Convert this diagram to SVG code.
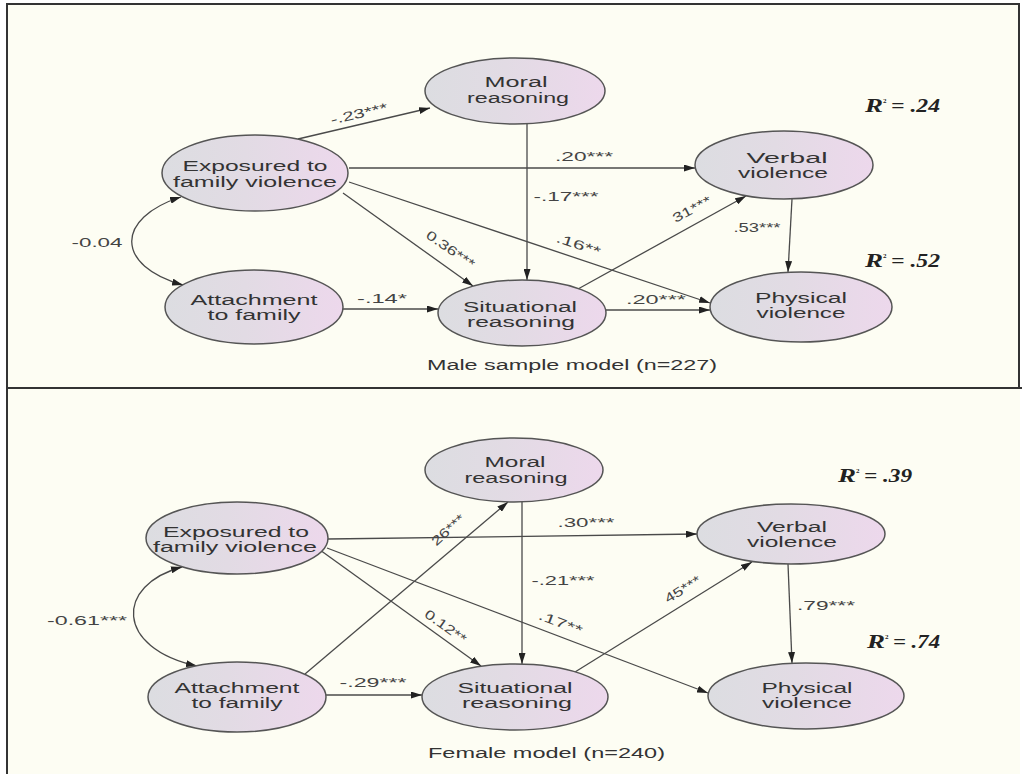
<svg xmlns="http://www.w3.org/2000/svg" width="1022" height="774" viewBox="0 0 1022 774">
<style>
.nd{fill:url(#g);stroke:#555;stroke-width:1.5}
.nt{font-family:"Liberation Sans",Arial,sans-serif;font-size:14px;fill:#333;text-anchor:middle}
.el{font-family:"Liberation Sans",Arial,sans-serif;font-size:13px;fill:#444;text-anchor:middle}
.cn{fill:none;stroke:#4a4a4a;stroke-width:1.3}
.ar{marker-end:url(#ah)}
.r2{font-family:"Liberation Serif","Times New Roman",serif;font-weight:bold;font-style:italic;font-size:18px;fill:#222}
.sup{font-family:"Liberation Serif","Times New Roman",serif;font-weight:bold;font-size:7px;fill:#222}
.cap{font-family:"Liberation Sans",Arial,sans-serif;font-size:14px;fill:#333}
</style>
<defs>
<linearGradient id="g" x1="0" y1="0" x2="1" y2="0">
<stop offset="0" stop-color="#dcdde1"/>
<stop offset="0.45" stop-color="#e2dbe4"/>
<stop offset="1" stop-color="#edd8ec"/>
</linearGradient>
<marker id="ah" markerWidth="11" markerHeight="7" refX="11" refY="3.5" orient="auto-start-reverse" markerUnits="userSpaceOnUse">
<path d="M0,0 L11,3.5 L0,7 z" fill="#222"/>
</marker>
</defs>
<rect x="0" y="0" width="1022" height="774" fill="#ffffff"/>
<rect x="7" y="4" width="1013" height="770" fill="#fdfdf3"/>
<g id="frame" fill="none" stroke="#333" stroke-width="2">
<rect x="7" y="4" width="1012" height="384"/>
<line x1="7" y1="388" x2="7" y2="774"/>
<line x1="7" y1="388" x2="1022" y2="388"/>
</g>

<!-- ===== Male panel ===== -->
<g id="connectors-male">
<line class="cn ar" x1="298" y1="139" x2="430" y2="108"/>
<line class="cn ar" x1="349" y1="168" x2="695" y2="168"/>
<line class="cn ar" x1="527" y1="124" x2="527" y2="280"/>
<line class="cn ar" x1="343" y1="193" x2="473" y2="286"/>
<line class="cn ar" x1="349" y1="182" x2="710" y2="303"/>
<line class="cn ar" x1="578" y1="289" x2="746" y2="196"/>
<line class="cn ar" x1="792" y1="199" x2="788" y2="272"/>
<line class="cn ar" x1="343" y1="309" x2="438" y2="309"/>
<line class="cn ar" x1="606" y1="310" x2="710" y2="310"/>
<path class="cn" d="M181,197 C115,218 115,266 183,285" marker-start="url(#ah)" marker-end="url(#ah)"/>
<text class="el" x="360" y="118" textLength="58" lengthAdjust="spacingAndGlyphs" transform="rotate(-13 360 118)">-.23***</text>
<text class="el" x="584" y="161" textLength="58" lengthAdjust="spacingAndGlyphs">.20***</text>
<text class="el" x="566" y="201" textLength="65" lengthAdjust="spacingAndGlyphs">-.17***</text>
<text class="el" x="448" y="253" textLength="56" lengthAdjust="spacingAndGlyphs" transform="rotate(35 448 253)">0.36***</text>
<text class="el" x="577" y="249" textLength="46" lengthAdjust="spacingAndGlyphs" transform="rotate(18.5 577 249)">.16**</text>
<text class="el" x="694" y="213" textLength="42" lengthAdjust="spacingAndGlyphs" transform="rotate(-28.6 694 213)">31***</text>
<text class="el" x="757" y="232" textLength="47" lengthAdjust="spacingAndGlyphs">.53***</text>
<text class="el" x="382" y="303" textLength="50" lengthAdjust="spacingAndGlyphs">-.14*</text>
<text class="el" x="656" y="304" textLength="60" lengthAdjust="spacingAndGlyphs">.20***</text>
<text class="el" x="97" y="247" textLength="51" lengthAdjust="spacingAndGlyphs">-0.04</text>
</g>

<g id="m-exposure">
<ellipse class="nd" cx="255" cy="173" rx="93" ry="38"/>
<text class="nt" x="255" y="171" textLength="145" lengthAdjust="spacingAndGlyphs">Exposured to</text>
<text class="nt" x="255" y="187" textLength="164" lengthAdjust="spacingAndGlyphs">family violence</text>
</g>
<g id="m-attachment">
<ellipse class="nd" cx="254" cy="307" rx="89" ry="37"/>
<text class="nt" x="254" y="305" textLength="127" lengthAdjust="spacingAndGlyphs">Attachment</text>
<text class="nt" x="254" y="320" textLength="93" lengthAdjust="spacingAndGlyphs">to family</text>
</g>
<g id="m-moral">
<ellipse class="nd" cx="515" cy="91" rx="90" ry="33"/>
<text class="nt" x="516" y="87" textLength="63" lengthAdjust="spacingAndGlyphs">Moral</text>
<text class="nt" x="518" y="103" textLength="102" lengthAdjust="spacingAndGlyphs">reasoning</text>
</g>
<g id="m-situational">
<ellipse class="nd" cx="522" cy="313" rx="84" ry="33"/>
<text class="nt" x="520" y="312" textLength="114" lengthAdjust="spacingAndGlyphs">Situational</text>
<text class="nt" x="521" y="327" textLength="108" lengthAdjust="spacingAndGlyphs">reasoning</text>
</g>
<g id="m-verbal">
<ellipse class="nd" cx="784" cy="165" rx="89" ry="34"/>
<text class="nt" x="787" y="163" textLength="81" lengthAdjust="spacingAndGlyphs">Verbal</text>
<text class="nt" x="783" y="178" textLength="90" lengthAdjust="spacingAndGlyphs">violence</text>
</g>
<g id="m-physical">
<ellipse class="nd" cx="801" cy="307" rx="91" ry="35"/>
<text class="nt" x="801" y="303" textLength="92" lengthAdjust="spacingAndGlyphs">Physical</text>
<text class="nt" x="801" y="318" textLength="89" lengthAdjust="spacingAndGlyphs">violence</text>
</g>
<g id="m-r2">
<text class="r2" x="865" y="112" textLength="18" lengthAdjust="spacingAndGlyphs">R</text>
<text class="sup" x="883" y="103">2</text>
<text class="r2" x="891" y="112" textLength="49" lengthAdjust="spacingAndGlyphs">= .24</text>
<text class="r2" x="865" y="267" textLength="18" lengthAdjust="spacingAndGlyphs">R</text>
<text class="sup" x="883" y="258">2</text>
<text class="r2" x="891" y="267" textLength="49" lengthAdjust="spacingAndGlyphs">= .52</text>
</g>
<text class="cap" x="427" y="370" textLength="290" lengthAdjust="spacingAndGlyphs">Male sample model (n=227)</text>

<!-- ===== Female panel ===== -->
<g id="connectors-female">
<line class="cn ar" x1="328" y1="539" x2="697" y2="534"/>
<line class="cn ar" x1="305" y1="674" x2="508" y2="502"/>
<line class="cn ar" x1="522" y1="502" x2="522" y2="664"/>
<line class="cn ar" x1="320" y1="550" x2="481" y2="666"/>
<line class="cn ar" x1="327" y1="548" x2="708" y2="693"/>
<line class="cn ar" x1="575" y1="672" x2="752" y2="562"/>
<line class="cn ar" x1="788" y1="564" x2="792" y2="663"/>
<line class="cn ar" x1="326" y1="695" x2="422" y2="695"/>
<path class="cn" d="M182,567 C115,585 115,648 197,666" marker-start="url(#ah)" marker-end="url(#ah)"/>
<text class="el" x="586" y="527" textLength="57" lengthAdjust="spacingAndGlyphs">.30***</text>
<text class="el" x="451" y="533" textLength="40" lengthAdjust="spacingAndGlyphs" transform="rotate(-42 451 533)">26***</text>
<text class="el" x="563" y="585" textLength="63" lengthAdjust="spacingAndGlyphs">-.21***</text>
<text class="el" x="443" y="630" textLength="48" lengthAdjust="spacingAndGlyphs" transform="rotate(35.5 443 630)">0.12**</text>
<text class="el" x="559" y="627" textLength="46" lengthAdjust="spacingAndGlyphs" transform="rotate(20.8 559 627)">.17**</text>
<text class="el" x="685" y="593" textLength="40" lengthAdjust="spacingAndGlyphs" transform="rotate(-32 685 593)">45***</text>
<text class="el" x="826" y="610" textLength="58" lengthAdjust="spacingAndGlyphs">.79***</text>
<text class="el" x="373" y="687" textLength="67" lengthAdjust="spacingAndGlyphs">-.29***</text>
<text class="el" x="87" y="625" textLength="80" lengthAdjust="spacingAndGlyphs">-0.61***</text>
</g>

<g id="f-exposure">
<ellipse class="nd" cx="237" cy="538" rx="91" ry="36"/>
<text class="nt" x="236" y="537" textLength="146" lengthAdjust="spacingAndGlyphs">Exposured to</text>
<text class="nt" x="235" y="552" textLength="164" lengthAdjust="spacingAndGlyphs">family violence</text>
</g>
<g id="f-attachment">
<ellipse class="nd" cx="237" cy="697" rx="89" ry="35"/>
<text class="nt" x="237" y="693" textLength="125" lengthAdjust="spacingAndGlyphs">Attachment</text>
<text class="nt" x="237" y="708" textLength="91" lengthAdjust="spacingAndGlyphs">to family</text>
</g>
<g id="f-moral">
<ellipse class="nd" cx="514" cy="470" rx="89" ry="32"/>
<text class="nt" x="515" y="467" textLength="61" lengthAdjust="spacingAndGlyphs">Moral</text>
<text class="nt" x="516" y="483" textLength="103" lengthAdjust="spacingAndGlyphs">reasoning</text>
</g>
<g id="f-situational">
<ellipse class="nd" cx="515" cy="697" rx="93" ry="33"/>
<text class="nt" x="515" y="693" textLength="115" lengthAdjust="spacingAndGlyphs">Situational</text>
<text class="nt" x="517" y="708" textLength="110" lengthAdjust="spacingAndGlyphs">reasoning</text>
</g>
<g id="f-verbal">
<ellipse class="nd" cx="791" cy="534" rx="94" ry="30"/>
<text class="nt" x="792" y="532" textLength="70" lengthAdjust="spacingAndGlyphs">Verbal</text>
<text class="nt" x="792" y="547" textLength="90" lengthAdjust="spacingAndGlyphs">violence</text>
</g>
<g id="f-physical">
<ellipse class="nd" cx="806" cy="696" rx="98" ry="33"/>
<text class="nt" x="807" y="693" textLength="91" lengthAdjust="spacingAndGlyphs">Physical</text>
<text class="nt" x="807" y="708" textLength="90" lengthAdjust="spacingAndGlyphs">violence</text>
</g>
<g id="f-r2">
<text class="r2" x="838" y="482" textLength="18" lengthAdjust="spacingAndGlyphs">R</text>
<text class="sup" x="856" y="473">2</text>
<text class="r2" x="864" y="482" textLength="48" lengthAdjust="spacingAndGlyphs">= .39</text>
<text class="r2" x="867" y="648" textLength="18" lengthAdjust="spacingAndGlyphs">R</text>
<text class="sup" x="885" y="639">2</text>
<text class="r2" x="893" y="648" textLength="47" lengthAdjust="spacingAndGlyphs">= .74</text>
</g>
<text class="cap" x="428" y="758" textLength="237" lengthAdjust="spacingAndGlyphs">Female model (n=240)</text>
</svg>
